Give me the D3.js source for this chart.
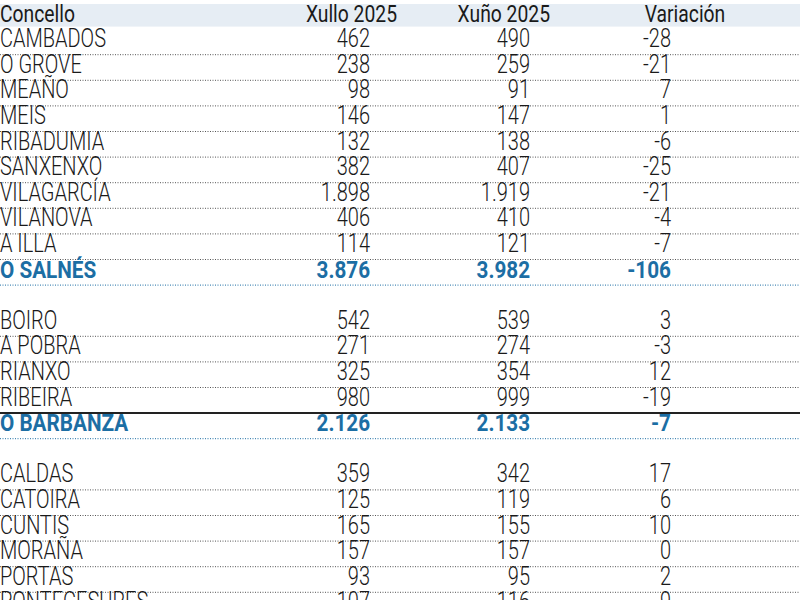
<!DOCTYPE html><html><head><meta charset="utf-8"><script src="https://cdn.jsdelivr.net/npm/d3@7"></script>
<style>body{margin:0;background:#fff}</style></head><body><svg id="c" width="800" height="600"></svg>
<script>
const headers = ["Concello","Xullo 2025","Xuño 2025","Variación"];
const concellos = ["CAMBADOS","O GROVE","MEAÑO","MEIS","RIBADUMIA","SANXENXO","VILAGARCÍA","VILANOVA","A ILLA","O SALNÉS","","BOIRO","A POBRA","RIANXO","RIBEIRA","O BARBANZA","","CALDAS","CATOIRA","CUNTIS","MORAÑA","PORTAS","PONTECESURES"];
const xullo = [462,238,98,146,132,382,1898,406,114,3876,null,542,271,325,980,2126,null,359,125,165,157,93,107];
const xuno  = [490,259,91,147,138,407,1919,410,121,3982,null,539,274,354,999,2133,null,342,119,155,157,95,116];
const variacion = [-28,-21,7,1,-6,-25,-21,-4,-7,-106,null,3,-3,12,-19,-7,null,17,6,10,0,2,-9];
const totals = ["O SALNÉS","O BARBANZA"];

const svg = d3.select("#c");
const rowH = 25.6, top0 = 4;
const y = d3.scaleLinear().domain([0,1]).range([top0, top0+rowH]);
const fmt0 = d3.formatLocale({decimal:",",thousands:".",grouping:[3],currency:["",""],minus:"-"}).format(",d");
const fmt = v => fmt0(v);
const blue = "#1c6ea4";

svg.append("rect").attr("x",0).attr("y",y(0)).attr("width",800).attr("height",rowH-3).attr("fill","#e6edf4");
const colR = [null,370,530,671];
function txt(s,x,yy,anchor,opts){
  const g = svg.append("g").attr("transform",`translate(${x},${yy}) scale(${opts.sx},1)`);
  g.append("text").text(s).attr("text-anchor",anchor)
   .attr("font-family","Roboto").attr("font-size",opts.size)
   .attr("font-weight",opts.w).attr("fill",opts.c||"#1a1a1a");
}
const hx = [0,397,550,685], ha=["start","end","end","middle"];
headers.forEach((h,i)=>txt(h,hx[i],y(1)-8,ha[i],{w:400,size:23,sx:0.84}));

concellos.forEach((n,i)=>{
  const r = i+1;
  const base = y(r+1)-8;
  const tot = totals.includes(n);
  const o = tot?{w:700,c:blue,size:23,sx:0.9}:{w:300,size:25,sx:0.8};
  if(n){
    txt(n,0,base,"start",o);
    txt(fmt(xullo[i]),colR[1],base,"end",o);
    txt(fmt(xuno[i]),colR[2],base,"end",o);
    txt(fmt(variacion[i]),colR[3],base,"end",o);
  }
  const ly = y(r+1)-0.5;
  if(concellos[i+1]==="O BARBANZA"){
    svg.append("line").attr("x1",0).attr("x2",800).attr("y1",ly).attr("y2",ly).attr("stroke","#222").attr("stroke-width",2);
  } else if(n){
    svg.append("line").attr("x1",0).attr("x2",800).attr("y1",ly).attr("y2",ly)
      .attr("stroke",tot?blue:"#555").attr("stroke-width",1).attr("stroke-dasharray","1,1.5");
  }
});
</script></body></html>
